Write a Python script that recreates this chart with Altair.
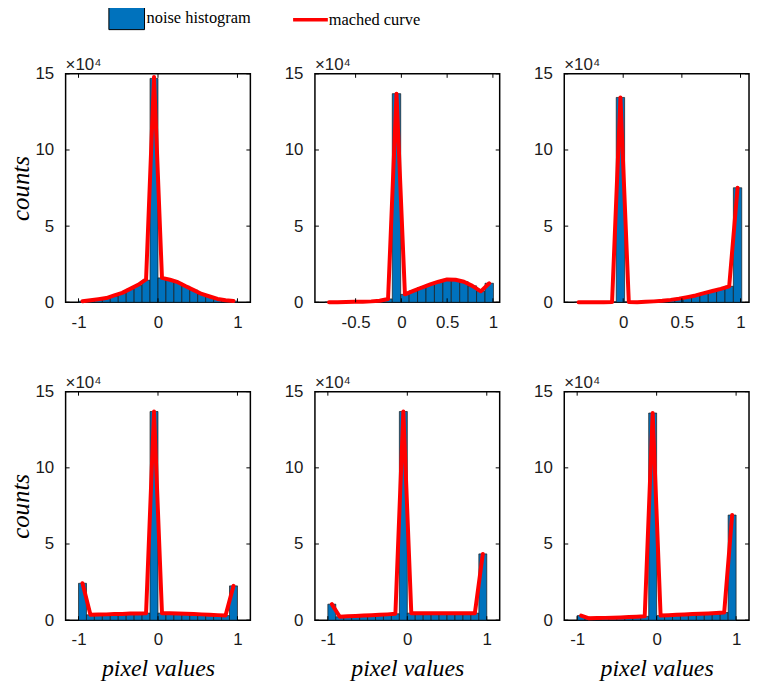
import altair as alt
import numpy as np
import pandas as pd

BLUE = "#0072BD"
RED = "#FF0000"
W, H = 186, 230

# histogram bin definitions per panel: first bin edge and bin width (20 bins each)
bin_start = [-1.0, -0.836, -0.4157, -1.0, -1.0, -1.0]
bin_width = [0.1, 0.0921, 0.0713, 0.1, 0.1, 0.1]

# bar heights, in units of 1e4 counts
counts_1 = [0.07, 0.13, 0.2, 0.28, 0.42, 0.6, 0.85, 1.1, 1.45, 14.7,
            1.6, 1.48, 1.3, 1.05, 0.8, 0.55, 0.38, 0.22, 0.13, 0.08]
counts_2 = [0.01, 0.01, 0.02, 0.03, 0.04, 0.06, 0.1, 0.22, 13.7, 0.52,
            0.75, 0.97, 1.17, 1.35, 1.5, 1.48, 1.35, 1.08, 0.72, 1.25]
counts_3 = [0.0, 0.0, 0.0, 0.0, 0.02, 13.45, 0.02, 0.01, 0.03, 0.06,
            0.1, 0.16, 0.24, 0.34, 0.45, 0.6, 0.74, 0.88, 1.05, 7.52]
counts_4 = [2.42, 0.35, 0.37, 0.38, 0.4, 0.41, 0.43, 0.44, 0.46, 13.7,
            0.46, 0.45, 0.43, 0.42, 0.4, 0.38, 0.36, 0.33, 0.3, 2.25]
counts_5 = [1.05, 0.22, 0.25, 0.27, 0.3, 0.32, 0.35, 0.38, 0.42, 13.7,
            0.46, 0.46, 0.46, 0.46, 0.46, 0.46, 0.46, 0.46, 0.46, 4.35]
counts_6 = [0.3, 0.12, 0.14, 0.15, 0.16, 0.18, 0.2, 0.22, 0.25, 13.6,
            0.3, 0.32, 0.35, 0.37, 0.4, 0.42, 0.44, 0.47, 0.5, 6.9]
counts = [counts_1, counts_2, counts_3, counts_4, counts_5, counts_6]

# matched curve values at the bin centres (1e4 counts)
curve_1 = [0.07, 0.13, 0.2, 0.28, 0.45, 0.62, 0.88, 1.15, 1.5, 14.8,
           1.6, 1.48, 1.32, 1.05, 0.8, 0.55, 0.38, 0.22, 0.13, 0.08]
curve_2 = counts_2
curve_3 = counts_3
curve_4 = counts_4
curve_5 = counts_5
curve_6 = counts_6
curves = [curve_1, curve_2, curve_3, curve_4, curve_5, curve_6]

x_domains = [[-1.1, 1.1], [-0.89, 1.02], [-0.46, 1.03],
             [-1.1, 1.1], [-1.1, 1.1], [-1.1, 1.1]]
x_ticks = [[-1, 0, 1], [-0.5, 0, 0.5, 1], [0, 0.5, 1],
           [-1, 0, 1], [-1, 0, 1], [-1, 0, 1]]
y_ticks = [0, 5, 10, 15]

fill_legend = alt.Legend(
    orient="none", legendX=49.5, legendY=-68, title=None,
    symbolType="M-1.56,-1H1.56V1H-1.56Z", symbolSize=529,
    symbolStrokeColor="black", symbolStrokeWidth=1, symbolOpacity=1,
    labelFont="Liberation Serif", labelFontSize=16.5, labelColor="black",
    labelOffset=8, padding=0,
)
stroke_legend = alt.Legend(
    orient="none", legendX=233, legendY=-68, title=None,
    symbolType="M-1.52,0H1.52", symbolSize=529, symbolStrokeWidth=3.5,
    labelFont="Liberation Serif", labelFontSize=16.5, labelColor="black",
    labelOffset=5, padding=0,
)


def panel(i, left, bottom):
    lo = bin_start[i] + np.arange(20) * bin_width[i]
    bars = pd.DataFrame({"lo": lo, "hi": lo + bin_width[i],
                         "count": counts[i], "series": "noise histogram"})
    cur = pd.DataFrame({"xc": lo + bin_width[i] / 2, "value": curves[i],
                        "series": "mached curve"})
    xs = alt.Scale(domain=x_domains[i], nice=False, zero=False)
    ys = alt.Scale(domain=[0, 15], nice=False, zero=True)
    xaxis = alt.Axis(values=x_ticks[i], labelExpr="toString(datum.value)",
                     title="pixel values" if bottom else "",
                     titleFont="Liberation Serif", titleFontStyle="italic",
                     titleFontWeight="normal", titleFontSize=24, titlePadding=9,
                     titleColor="black",
                     ticks=False, domain=False, grid=False, labelPadding=12,
                     labelFlush=False, labelOverlap=False)
    yaxis = alt.Axis(values=y_ticks, title="counts" if left else "",
                     titleFont="Liberation Serif", titleFontStyle="italic",
                     titleFontWeight="normal", titleFontSize=25, titlePadding=1,
                     titleColor="black",
                     ticks=False, domain=False, grid=False, labelPadding=12,
                     labelFlush=False, labelOverlap=False)
    bar = alt.Chart(bars).mark_bar(stroke="#1a1a1a", strokeWidth=0.7, orient="vertical").encode(
        x=alt.X("lo:Q", scale=xs, axis=xaxis),
        x2="hi:Q",
        y=alt.Y("count:Q", scale=ys, axis=yaxis),
        y2=alt.datum(0),
        fill=alt.Fill("series:N", scale=alt.Scale(domain=["noise histogram"], range=[BLUE]),
                      legend=fill_legend),
    )
    line = alt.Chart(cur).mark_line(strokeWidth=4, strokeJoin="round", strokeCap="round").encode(
        x=alt.X("xc:Q", scale=xs, axis=xaxis),
        y=alt.Y("value:Q", scale=ys, axis=yaxis),
        stroke=alt.Stroke("series:N", scale=alt.Scale(domain=["mached curve"], range=[RED]),
                          legend=stroke_legend),
    )
    xt = pd.DataFrame({"t": x_ticks[i]})
    yt = pd.DataFrame({"t": y_ticks})
    tb = alt.Chart(xt).mark_rule(color="black", strokeWidth=1).encode(
        x=alt.X("t:Q", scale=xs, axis=xaxis), y=alt.value(H), y2=alt.value(H - 4))
    tt = alt.Chart(xt).mark_rule(color="black", strokeWidth=1).encode(
        x=alt.X("t:Q", scale=xs, axis=xaxis), y=alt.value(0), y2=alt.value(4))
    tl = alt.Chart(yt).mark_rule(color="black", strokeWidth=1).encode(
        y=alt.Y("t:Q", scale=ys, axis=yaxis), x=alt.value(0), x2=alt.value(4))
    tr = alt.Chart(yt).mark_rule(color="black", strokeWidth=1).encode(
        y=alt.Y("t:Q", scale=ys, axis=yaxis), x=alt.value(W), x2=alt.value(W - 4))
    return alt.layer(bar, line, tb, tt, tl, tr).properties(
        width=W, height=H,
        title=alt.TitleParams("×10⁴", anchor="start", frame="group", fontSize=17,
                              font="Liberation Sans", fontWeight="normal",
                              color="#222222", offset=4, dy=13),
    )


chart = alt.concat(
    panel(0, True, False), panel(1, False, False), panel(2, False, False),
    panel(3, True, True), panel(4, False, True), panel(5, False, True),
    columns=3, spacing={"row": 90, "column": 65}, bounds="flush",
).properties(
    padding={"left": 0, "top": -4, "right": 0, "bottom": 0}
).configure_view(stroke="black", strokeWidth=1.5).configure_axis(
    labelFont="Liberation Sans", labelFontSize=17, labelColor="#1a1a1a"
)

chart.save("out.html", embed_options={"renderer": "svg", "actions": False})
